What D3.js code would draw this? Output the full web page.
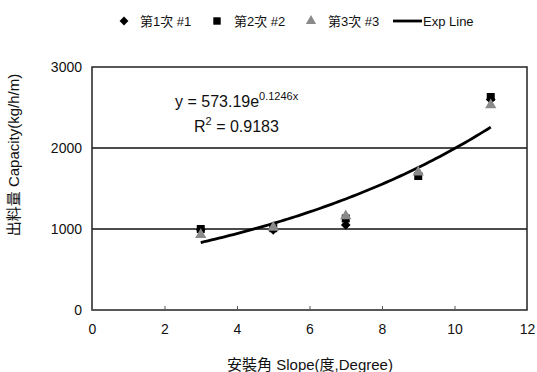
<!DOCTYPE html>
<html><head><meta charset="utf-8">
<script src="https://cdn.jsdelivr.net/npm/d3@7"></script>
<style>body{margin:0;background:#fff}svg{display:block}text{font-family:"Liberation Sans",Arial,"Noto Sans CJK TC",sans-serif;fill:#111}</style>
</head><body>
<script>
const slopes = [3, 5, 7, 9, 11];
const run1 = [990, 990, 1050, 1680, 2600];
const run2 = [1000, 1010, 1130, 1654, 2630];
const run3 = [930, 1020, 1160, 1700, 2530];
const expA = 573.19, expB = 0.1246;
const xTicks = [0, 2, 4, 6, 8, 10, 12];
const yTicks = [0, 1000, 2000, 3000];
const seriesNames = ["第1次 #1", "第2次 #2", "第3次 #3", "Exp Line"];

const W = 537, H = 372;
const svg = d3.select("body").append("svg").attr("width", W).attr("height", H);
const m = {l: 92, r: 527, t: 67, b: 310};
const x = d3.scaleLinear().domain([0, 12]).range([m.l, m.r]);
const y = d3.scaleLinear().domain([0, 3000]).range([m.b, m.t]);

// gridlines
svg.append("g").selectAll("line").data([1000, 2000]).join("line")
  .attr("x1", m.l).attr("x2", m.r).attr("y1", d => y(d)).attr("y2", d => y(d))
  .attr("stroke", "#111").attr("stroke-width", 1.3);

// frame
svg.append("rect").attr("x", m.l).attr("y", m.t).attr("width", m.r - m.l).attr("height", m.b - m.t)
  .attr("fill", "none").attr("stroke", "#222").attr("stroke-width", 1.5);

// x ticks (inward) and labels
const xa = svg.append("g").attr("transform", `translate(0,${m.b})`)
  .call(d3.axisBottom(x).tickValues(xTicks).tickSize(-4).tickPadding(14).tickFormat(d3.format("d")));
xa.select(".domain").remove();
xa.selectAll("line").attr("stroke", "#555");
xa.selectAll("text").style("font-size", "14px").attr("fill", "#111");

const ya = svg.append("g").attr("transform", `translate(${m.l},0)`)
  .call(d3.axisLeft(y).tickValues(yTicks).tickSize(0).tickPadding(10).tickFormat(d3.format("d")));
ya.select(".domain").remove();
ya.selectAll("text").style("font-size", "14px").attr("fill", "#111");

// exp line
const xs = d3.range(3, 11.001, 0.1);
svg.append("path").datum(xs)
  .attr("d", d3.line().x(d => x(d)).y(d => y(expA * Math.exp(expB * d))))
  .attr("fill", "none").attr("stroke", "#000").attr("stroke-width", 2.8);

const sym = {
  d: d3.symbol().type(d3.symbolDiamond2 || d3.symbolDiamond).size(60),
  s: d3.symbol().type(d3.symbolSquare).size(64),
  t: d3.symbol().type(d3.symbolTriangle).size(55)
};
function drawSeries(vals, s, color) {
  svg.append("g").selectAll("path").data(vals).join("path")
    .attr("transform", (d, i) => `translate(${x(slopes[i])},${y(d)})`)
    .attr("d", s).attr("fill", color);
}
drawSeries(run1, sym.d, "#000");
drawSeries(run2, sym.s, "#000");
drawSeries(run3, sym.t, "#8a8a8a");

// equation
const eq = svg.append("text").attr("x", 175).attr("y", 107).style("font-size", "16px");
eq.append("tspan").text("y = 573.19e");
eq.append("tspan").attr("dy", -7).style("font-size", "11px").text("0.1246x");
const r2 = svg.append("text").attr("x", 194).attr("y", 132).style("font-size", "16px");
r2.append("tspan").text("R");
r2.append("tspan").attr("dy", -7).style("font-size", "11px").text("2");
r2.append("tspan").attr("dy", 7).text(" = 0.9183");

// axis titles
svg.append("text").attr("x", 310).attr("y", 370).attr("text-anchor", "middle")
  .style("font-size", "15px").text("安裝角 Slope(度,Degree)");
svg.append("text").attr("transform", "translate(19,155) rotate(-90)").attr("text-anchor", "middle")
  .style("font-size", "15px").text("出料量 Capacity(kg/h/m)");

// legend
const lg = svg.append("g");
const ly = 21;
const items = [
  {sx: 124, tx: 140, s: d3.symbol().type(d3.symbolDiamond2 || d3.symbolDiamond).size(50), c: "#000"},
  {sx: 217, tx: 234, s: d3.symbol().type(d3.symbolSquare).size(55), c: "#000"},
  {sx: 311, tx: 328, s: d3.symbol().type(d3.symbolTriangle).size(45), c: "#8a8a8a"}
];
items.forEach((it, i) => {
  lg.append("path").attr("transform", `translate(${it.sx},${ly})`).attr("d", it.s).attr("fill", it.c);
  lg.append("text").attr("x", it.tx).attr("y", ly + 5).style("font-size", "13px").text(seriesNames[i]);
});
lg.append("line").attr("x1", 393).attr("x2", 422).attr("y1", ly).attr("y2", ly).attr("stroke", "#000").attr("stroke-width", 2.8);
lg.append("text").attr("x", 423).attr("y", ly + 5).style("font-size", "13px").text(seriesNames[3]);
</script>
</body></html>
